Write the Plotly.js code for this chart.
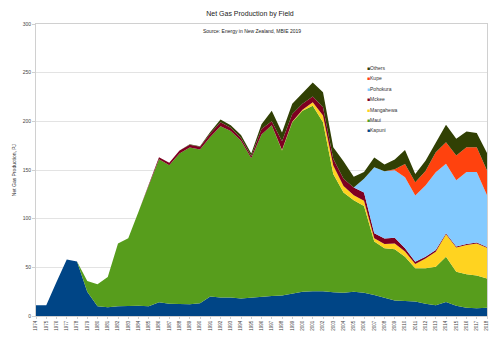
<!DOCTYPE html>
<html><head><meta charset="utf-8">
<script src="https://cdn.plot.ly/plotly-3.0.1.min.js"></script>
<style>html,body{margin:0;padding:0;background:#fff}#chart{width:500px;height:340px}</style>
</head><body><div id="chart"></div>
<script>
const years = [1974,1975,1976,1977,1978,1979,1980,1981,1982,1983,1984,1985,1986,1987,1988,1989,1990,1991,1992,1993,1994,1995,1996,1997,1998,1999,2000,2001,2002,2003,2004,2005,2006,2007,2008,2009,2010,2011,2012,2013,2014,2015,2016,2017,2018];
const kapuni = [11,11,35,58,56,25,10,9,10,10.5, 10.5,10,14,12.5,12,12,13,20,19,19, 18,19,19.5,20.5,21,23,25,25.5,25.5,24.5, 24,25,24,21.5,19,16,15.5,15,12.5,11, 14.5,10.5,8.5,8,8.5];
const maui = [0,0,0,0,0,11,22.5,31,64.5,69.5, 96.5,125,147,142.5,155,161,158,164,176,171, 162,143,167,175.5,149,176,186,190.5,173.5,121.5, 103,94,89,55,50.5,52.5,45.5,34,36.5,39.5, 46.5,35,34.5,33.5,30];
const mangahewa = [0,0,0,0,0,0,0,0,0,0, 0,0,0,0,0,0,0,0,0,0, 0,0,0,0,0.5,0.5,1,3.5,7,8.5, 6.5,5,5.5,3.4,4.4,6,5.2,4.3,10,15.6, 23,25,30,33,31.5];
const mckee = [0,0,0,0,0,0,0,0,0,0, 0,0,2,2.5,3,3,3,3.5,4,3.5, 3,2.5,5.5,4,9,8,6,6,8.5,7, 7.5,8,8.5,5,5.7,5.8,3.4,2.5,2,1.6, 1,1,1,1,1];
const pohokura = [0,0,0,0,0,0,0,0,0,0, 0,0,0,0,0,0,0,0,0,0, 0,0,0,0,0,0,0,0,0,0, 0,0,14,68,69,69.5,73,68,73,80, 71.5,68,74,72.5,53];
const kupe = [0,0,0,0,0,0,0,0,0,0, 0,0,0,0,0,0,0,0,0,0, 0,0,0,0,0,0,0,0,0,0, 0,0,0,0,0,1,13.5,13.5,15,20.5, 22,25.5,25.5,25.5,25.5];
const others = [0,0,0,0,0,0,0,0,0,0, 0,0,0,0,0,0.5,0.5,1.5,3,2.5, 3,2.5,5,11,9,10.5,11,14.5,15.5,12, 18,11,7,10,7,10,14.5,8.5,10.5,10, 18,17,16,14.5,18];

const seriesNames = ['Kapuni','Maui','Mangahewa','Mckee','Pohokura','Kupe','Others'];
const seriesValues = [kapuni, maui, mangahewa, mckee, pohokura, kupe, others];
const seriesColors = ['#004586','#579d1c','#ffd320','#7e0021','#83caff','#ff420e','#314004'];

const traces = seriesNames.map((n,i)=>({
  type:'scatter', mode:'lines', name:n, x:years, y:seriesValues[i],
  stackgroup:'one', line:{width:0, color:seriesColors[i]}, fillcolor:seriesColors[i],
  showlegend:false, hoverinfo:'x+y+name'
}));

const L = 36, T = 24, W = 451, H = 292;
const legendAnns = seriesNames.slice().reverse().map((n,k)=>{
  const i = seriesNames.length-1-k;
  const py = 67.7 + k*10.45;
  return {xref:'paper', yref:'paper', x:(365-L)/W, y:(T+H-py)/H, xanchor:'left', yanchor:'middle',
    showarrow:false, text:'<span style="color:'+seriesColors[i]+'">■</span>'+n,
    font:{family:'Liberation Sans, Arial, sans-serif', size:5, color:'#333'}};
});

const layout = {
  width:500, height:340,
  margin:{l:L, r:500-L-W, t:T, b:340-T-H},
  paper_bgcolor:'#fff', plot_bgcolor:'#fff',
  font:{family:'Liberation Sans, Arial, sans-serif', color:'#333'},
  title:{text:'Net Gas Production by Field', x:0.5, xref:'container', y:1-14/340, yref:'container', yanchor:'middle',
    font:{size:7, color:'#222'}},
  xaxis:{range:[1974,2018], tickmode:'array', tickvals:years, ticktext:years.map(String), tickangle:-90,
    tickfont:{size:4.5, color:'#444'}, showgrid:false, zeroline:false,
    showline:true, linecolor:'#d0d0d0', linewidth:1, mirror:true, ticks:'outside', ticklen:2, tickcolor:'#d0d0d0'},
  yaxis:{range:[0,300], dtick:50, tickfont:{size:5, color:'#444'}, gridcolor:'#e3e3e3', gridwidth:1, zeroline:false,
    showline:true, linecolor:'#d0d0d0', linewidth:1, mirror:true, ticks:'outside', ticklen:3, tickcolor:'#d0d0d0',
    title:{text:'Net Gas Production, PJ', font:{size:5, color:'#333'}, standoff:5}},
  annotations:[
    {xref:'paper', yref:'paper', x:(252-L)/W, y:(T+H-31)/H, xanchor:'center', yanchor:'middle', showarrow:false,
     text:'Source: Energy in New Zealand, MBIE 2019', font:{size:5, color:'#222'}}
  ].concat(legendAnns),
  showlegend:false
};
Plotly.newPlot('chart', traces, layout, {displayModeBar:false, staticPlot:true});
</script></body></html>
